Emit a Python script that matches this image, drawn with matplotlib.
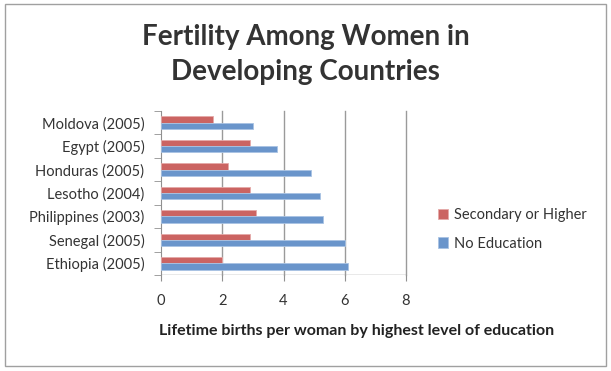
import numpy as np
import matplotlib.pyplot as plt
from matplotlib.patches import Rectangle

# Data (bottom to top)
countries = ['Ethiopia (2005)', 'Senegal (2005)', 'Philippines (2003)', 'Lesotho (2004)',
             'Honduras (2005)', 'Egypt (2005)', 'Moldova (2005)']
secondary = [2.0, 2.9, 3.1, 2.9, 2.2, 2.9, 1.7]
no_education = [6.1, 6.0, 5.3, 5.2, 4.9, 3.8, 3.0]
x_ticks = [0, 2, 4, 6, 8]

plt.rcParams['font.family'] = ['Lato', 'DejaVu Sans']

fig = plt.figure(figsize=(6.11, 3.71), dpi=100)
# outer chart border
fig.patches.append(Rectangle((0.008, 0.013), 0.984, 0.975, transform=fig.transFigure,
                             fill=False, edgecolor='#a0a0a0', linewidth=1.0))

W, H = 611, 371
ax = fig.add_axes([161 / W, 1 - 275 / H, (406 - 161) / W, (275 - 111) / H])

y = np.arange(len(countries))
h = 0.27
ax.barh(y + h / 2, secondary, height=h, color='#CB6462', edgecolor='#E5A9A8',
        linewidth=0.6, label='Secondary or Higher', zorder=3)
ax.barh(y - h / 2, no_education, height=h, color='#6A95CB', edgecolor='#A9C3E3',
        linewidth=0.6, label='No Education', zorder=3)

ax.set_xlim(0, 8)
ax.set_ylim(-0.5, len(countries) - 0.5)
ax.set_xticks(x_ticks)
ax.set_xticklabels([str(t) for t in x_ticks], fontsize=10.5, color='#333333')
ax.set_yticks(y)
ax.set_yticklabels(countries, fontsize=10.5, color='#333333')
ax.set_yticks(np.arange(-0.5, len(countries), 1), minor=True)
ax.tick_params(axis='y', which='major', length=0, pad=12)
ax.tick_params(axis='y', which='minor', length=5, color='#909090')
ax.tick_params(axis='x', length=4, color='#909090', pad=10)

for t in x_ticks[1:]:
    ax.axvline(t, color='#9a9a9a', linewidth=1.0, zorder=0, clip_on=False)
for s in ['top', 'right', 'bottom']:
    ax.spines[s].set_visible(False)
ax.spines['left'].set_color('#909090')
ax.axhline(-0.5, color='#909090', linewidth=1.0, zorder=1)

fig.text(357 / W, 1 - 331 / H, 'Lifetime births per woman by highest level of education',
         ha='center', va='center', fontsize=11.5, fontweight='bold', color='#222222')

fig.text(0.5, 0.935, 'Fertility Among Women in\nDeveloping Countries', ha='center',
         va='top', fontsize=20, fontweight='bold', color='#333333', linespacing=1.4)

leg = fig.legend(loc='upper left', bbox_to_anchor=(425 / W, 1 - 195 / H), frameon=False,
                 fontsize=10.5, handlelength=0.7, handleheight=0.7, labelspacing=1.0,
                 handletextpad=0.4)
for t in leg.get_texts():
    t.set_color('#333333')

fig.savefig('out.png', dpi=100)
